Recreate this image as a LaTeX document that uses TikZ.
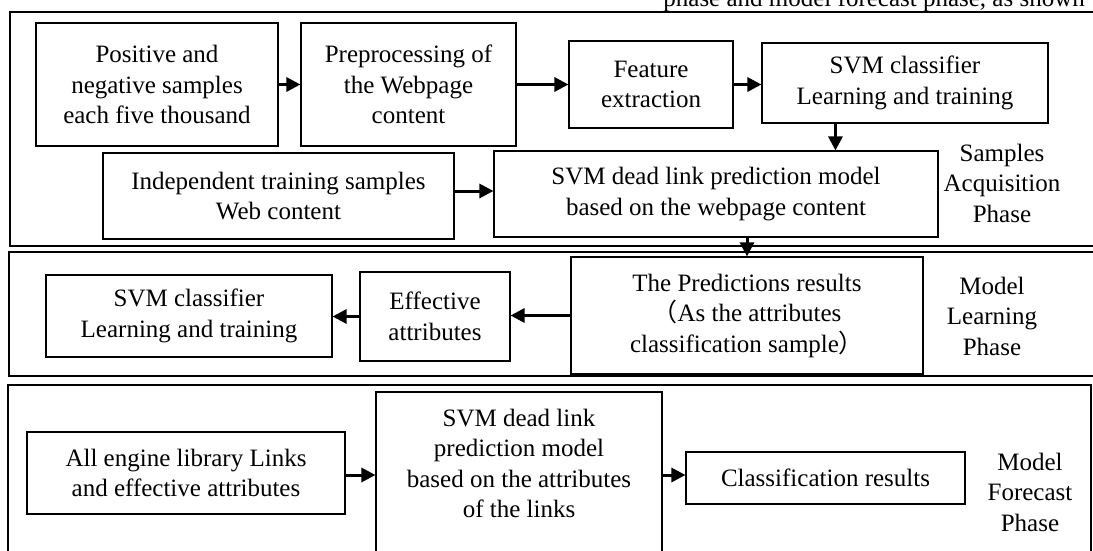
\documentclass[tikz,border=0pt]{standalone}
\usepackage{fontspec}
\setmainfont{Liberation Serif}
\newfontfamily\cjk{Noto Sans CJK SC}
\usetikzlibrary{arrows.meta}
\begin{document}
\begin{tikzpicture}[x=1pt,y=-1pt,
  box/.style={draw, line width=1.1pt, align=center, inner sep=0pt},
  frame/.style={draw, line width=1.1pt},
  arr/.style={line width=3pt, -{Triangle[length=14pt,width=14pt]}},
  lbl/.style={align=center, inner sep=0pt},
  every node/.append style={font=\fontsize{25}{30.5}\selectfont}]
\useasboundingbox (0,0) rectangle (1093,551);

% caption line running above the figure
\node[anchor=base east, inner sep=0pt] (cap) at (1085,7) {phase and model forecast phase, as shown};

% phase frames
\draw[frame] (10,12) rectangle (1110,246);
\draw[frame] (9,252) rectangle (1110,376);
\draw[frame] (8,385) rectangle (1091,570);

% samples acquisition phase
\node[box, minimum width=242pt, minimum height=123pt] (pos) at (157,84.5) {Positive and\\negative samples\\each five thousand};
\node[box, minimum width=215pt, minimum height=123pt] (pre) at (408.5,84.5) {Preprocessing of\\the Webpage\\content};
\node[box, minimum width=164pt, minimum height=87pt] (feat) at (651,84.5) {Feature\\extraction};
\node[box, minimum width=286pt, minimum height=80pt] (svm) at (905,83) {SVM classifier\\Learning and training};
\node[box, minimum width=351pt, minimum height=86pt] (ind) at (278.5,196) {Independent training samples\\Web content};
\node[box, minimum width=444pt, minimum height=86pt] (dlm) at (716,194) {SVM dead link prediction model\\based on the webpage content};
\node[lbl] (ph1) at (1002,183) {Samples\\Acquisition\\Phase};

\draw[arr] (pos.east) -- (pre.west);
\draw[arr] (pre.east) -- (feat.west);
\draw[arr] (feat.east) -- (feat.east -| svm.west);
\draw[arr] ([xshift=74pt]svm.south west) -- ([xshift=74pt]svm.south west |- dlm.north);
\draw[arr] ([yshift=5pt]ind.east) -- ([yshift=5pt]ind.east -| dlm.west);

% model learning phase
\node[box, minimum width=352pt, minimum height=117pt] (pred) at (747,315.5) {The Predictions results\\{\cjk （}As the attributes\\classification sample{\cjk ）}};
\node[box, minimum width=150pt, minimum height=89pt] (eff) at (435,316.5) {Effective\\attributes};
\node[box, minimum width=286pt, minimum height=82pt] (svm2) at (189,316) {SVM classifier\\Learning and training};
\node[lbl] (ph2) at (992,316) {Model\\Learning\\Phase};

\draw[arr] (pred.north |- dlm.south) -- (pred.north);
\draw[arr] (pred.west) -- (pred.west -| eff.east);
\draw[arr] (eff.west) -- (eff.west -| svm2.east);

% model forecast phase
\node[box, minimum width=318pt, minimum height=82pt] (all) at (186,473) {All engine library Links\\and effective attributes};
\node[box, minimum width=286pt, minimum height=200pt] (dlm2) at (519,492) {};
\node[lbl] (dlm2t) at (519,463.5) {SVM dead link\\prediction model\\based on the attributes\\of the links};
\node[box, minimum width=279pt, minimum height=52pt] (cls) at (825.5,478) {Classification results};
\node[lbl] (ph3) at (1030,492) {Model\\Forecast\\Phase};

\draw[arr] ([yshift=-2pt]all.east) -- ([yshift=-2pt]all.east -| dlm2.west);
\draw[arr] ([yshift=3pt]dlm2.east |- cls.west) -- ([yshift=3pt]cls.west);
\end{tikzpicture}
\end{document}
